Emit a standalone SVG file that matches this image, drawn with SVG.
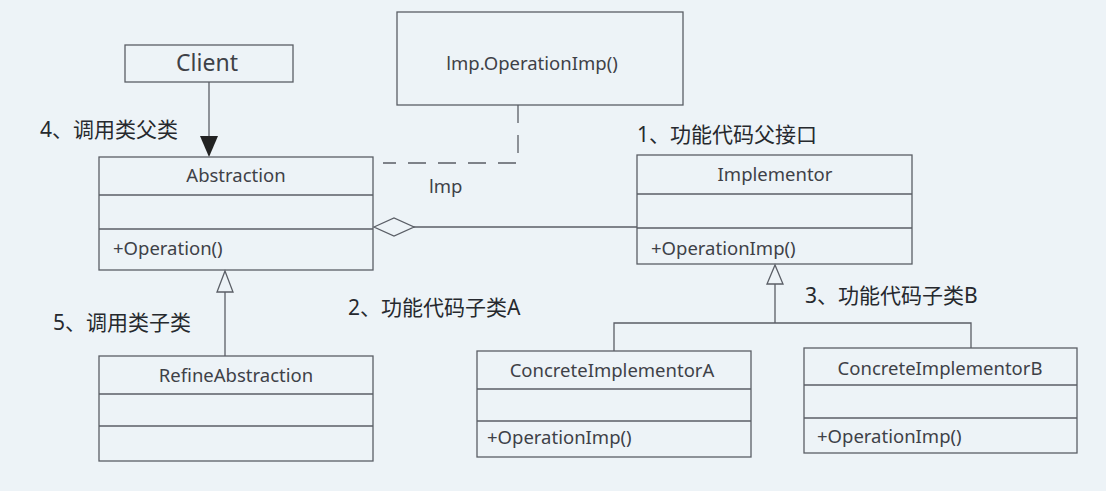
<svg xmlns="http://www.w3.org/2000/svg" width="1106" height="491" viewBox="0 0 1106 491">
<style>
text{font-family:"Noto Sans","Noto Sans CJK SC",sans-serif;fill:#3e4147;}
.box{fill:none;stroke:#5a5e66;stroke-width:1.3;}
.ln{stroke:#5a5e66;stroke-width:1.3;fill:none;}
.t{font-size:18.5px;}
.c{text-anchor:middle;}
.lbl{font-size:21px;fill:#26292e;}
</style>
<rect width="1106" height="491" fill="#edf3f7"/>
<g id="connectors">
<line class="ln" x1="209" y1="82" x2="209" y2="138"/>
<path d="M200,136 L218,136 L209,157 Z" fill="#222"/>
<path class="ln" d="M518,105 L518,163 L383,163" stroke-dasharray="18,12"/>
<line class="ln" x1="413" y1="227" x2="637" y2="227"/>
<path d="M374,227 L394,218 L414,227 L394,236 Z" fill="#edf3f7" stroke="#5a5e66" stroke-width="1.3"/>
<line class="ln" x1="225" y1="292" x2="225" y2="356"/>
<path d="M225,271 L217,292 L233,292 Z" fill="#edf3f7" stroke="#5a5e66" stroke-width="1.3"/>
<path class="ln" d="M775,284 L775,323 M614,351 L614,323 L971,323 L971,348"/>
<path d="M775,265 L767,284 L783,284 Z" fill="#edf3f7" stroke="#5a5e66" stroke-width="1.3"/>
</g>
<g id="client">
<rect class="box" x="125" y="45" width="168" height="37"/>
<text class="c" x="207" y="71" font-size="23">Client</text>
</g>
<g id="note">
<rect class="box" x="397" y="12" width="286" height="93"/>
<text class="c t" x="532" y="70">lmp.OperationImp()</text>
</g>
<text class="t" x="429" y="193">lmp</text>
<g id="abstraction">
<rect class="box" x="99" y="157" width="274" height="113"/>
<line class="ln" x1="99" y1="195" x2="373" y2="195" stroke-width="2"/>
<line class="ln" x1="99" y1="229" x2="373" y2="229"/>
<text class="c t" x="236" y="182">Abstraction</text>
<text class="t" x="113" y="255">+Operation()</text>
</g>
<g id="implementor">
<rect class="box" x="637" y="155" width="275" height="109"/>
<line class="ln" x1="637" y1="194" x2="912" y2="194"/>
<line class="ln" x1="637" y1="228" x2="912" y2="228"/>
<text class="c t" x="775" y="181">Implementor</text>
<text class="t" x="651" y="255">+OperationImp()</text>
</g>
<g id="refine">
<rect class="box" x="99" y="356" width="274" height="105"/>
<line class="ln" x1="99" y1="394" x2="373" y2="394"/>
<line class="ln" x1="99" y1="426" x2="373" y2="426"/>
<text class="c t" x="236" y="382">RefineAbstraction</text>
</g>
<g id="concreteA">
<rect class="box" x="477" y="351" width="274" height="106"/>
<line class="ln" x1="477" y1="389" x2="751" y2="389"/>
<line class="ln" x1="477" y1="421" x2="751" y2="421"/>
<text class="c t" x="612" y="377">ConcreteImplementorA</text>
<text class="t" x="487" y="444">+OperationImp()</text>
</g>
<g id="concreteB">
<rect class="box" x="804" y="348" width="273" height="105"/>
<line class="ln" x1="804" y1="385" x2="1077" y2="385"/>
<line class="ln" x1="804" y1="418" x2="1077" y2="418"/>
<text class="c t" x="940" y="375">ConcreteImplementorB</text>
<text class="t" x="817" y="443">+OperationImp()</text>
</g>
<g id="labels">
<text class="lbl" x="40" y="137">4、调用类父类</text>
<text class="lbl" x="53" y="330">5、调用类子类</text>
<text class="lbl" x="348" y="315">2、功能代码子类A</text>
<text class="lbl" x="805" y="303">3、功能代码子类B</text>
<text class="lbl" x="637" y="142">1、功能代码父接口</text>
</g>
</svg>
